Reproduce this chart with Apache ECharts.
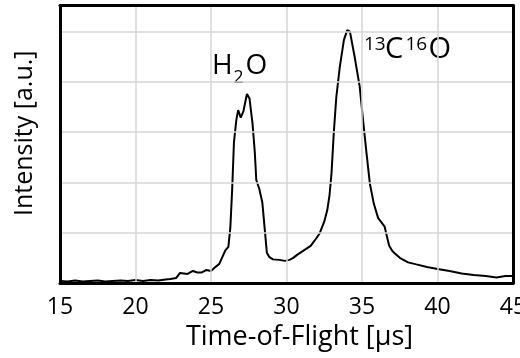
<!DOCTYPE html>
<html>
<head>
<meta charset="utf-8">
<script src="https://cdn.jsdelivr.net/npm/echarts@6/dist/echarts.min.js"></script>
<style>html,body{margin:0;padding:0;background:#fff}#c{width:520px;height:358px}</style>
</head>
<body>
<div id="c"></div>
<script>
const timeUs = [15.0,15.5,16.0,16.5,17.0,17.5,18.0,18.5,19.0,19.5,20.0,20.5,21.0,21.5,22.0,22.3,22.7,22.95,23.2,23.45,23.8,24.1,24.4,24.7,25.0,25.25,25.55,25.8,25.95,26.15,26.28,26.4,26.52,26.68,26.8,26.97,27.15,27.38,27.55,27.75,27.9,28.0,28.2,28.4,28.55,28.7,28.85,29.1,29.5,29.9,30.2,30.45,30.7,30.9,31.3,31.6,32.0,32.2,32.5,32.7,32.85,32.98,33.13,33.3,33.53,33.8,34.02,34.2,34.5,34.85,35.07,35.3,35.52,35.78,36.07,36.3,36.5,36.67,36.8,37.0,37.2,37.5,38.05,38.6,39.3,40.0,40.8,41.6,42.4,43.2,43.9,44.5,45.0];
const intensity = [0.04,0.03,0.05,0.03,0.04,0.05,0.03,0.04,0.05,0.04,0.06,0.04,0.06,0.05,0.07,0.08,0.1,0.2,0.19,0.18,0.24,0.21,0.21,0.26,0.24,0.31,0.38,0.55,0.65,0.72,1.1,1.85,2.8,3.25,3.44,3.29,3.42,3.76,3.67,3.17,2.6,2.05,1.87,1.6,1.1,0.6,0.52,0.47,0.46,0.44,0.46,0.5,0.56,0.6,0.68,0.74,0.9,0.99,1.22,1.45,1.75,2.18,2.98,3.7,4.3,4.83,5.03,5.0,4.52,3.9,3.24,2.58,1.98,1.58,1.29,1.2,1.12,0.9,0.74,0.64,0.58,0.5,0.41,0.37,0.32,0.28,0.24,0.19,0.16,0.14,0.11,0.14,0.14];
const xTicks = [15,20,25,30,35,40,45];
const xTitle = 'Time-of-Flight [µs]';
const yTitle = 'Intensity [a.u.]';

const FONT = 'Open Sans';
const chart = echarts.init(document.getElementById('c'), null, {renderer:'canvas'});
chart.setOption({
  animation:false,
  backgroundColor:'#fff',
  grid:{left:60,right:7,top:5.5,bottom:75,outerBoundsMode:'none',containLabel:false,show:false},
  xAxis:[{
    type:'value',min:xTicks[0],max:xTicks[xTicks.length-1],interval:5,
    name:xTitle,nameLocation:'middle',nameGap:41,
    nameTextStyle:{fontFamily:FONT,fontSize:27,color:'#000',padding:[0,0,0,26]},
    axisLine:{show:true,onZero:false,lineStyle:{color:'#000',width:3}},axisTick:{show:false},
    axisLabel:{fontFamily:FONT,fontSize:23,color:'#000',margin:13},
    splitLine:{show:true,lineStyle:{color:'#d6d6d6',width:1.5}},z:3
  },{
    type:'value',position:'top',min:xTicks[0],max:xTicks[xTicks.length-1],interval:5,
    axisLine:{show:true,onZero:false,lineStyle:{color:'#000',width:3}},axisTick:{show:false},
    axisLabel:{show:false},splitLine:{show:false},z:3
  }],
  yAxis:[{
    type:'value',min:0,max:5.52,interval:1,
    name:yTitle,nameLocation:'middle',nameGap:23,
    nameTextStyle:{fontFamily:FONT,fontSize:25,color:'#000',padding:[0,0,0,22]},
    axisLine:{show:true,onZero:false,lineStyle:{color:'#000',width:3}},axisTick:{show:false},axisLabel:{show:false},
    splitLine:{show:true,lineStyle:{color:'#d6d6d6',width:1.5}},z:3
  },{
    type:'value',position:'right',min:0,max:5.52,interval:1,
    axisLine:{show:true,onZero:false,lineStyle:{color:'#000',width:3}},axisTick:{show:false},axisLabel:{show:false},
    splitLine:{show:false},z:3
  }],
  series:[{
    type:'line',data:timeUs.map((t,i)=>[t,intensity[i]]),
    showSymbol:false,lineStyle:{color:'#000',width:2},z:2
  }],
  graphic:[
    {type:'text',left:212,top:52,style:{text:'H',fontFamily:FONT,fontSize:28,fill:'#000'}},
    {type:'text',left:233.5,top:69,style:{text:'2',fontFamily:FONT,fontSize:17.5,fill:'#000'}},
    {type:'text',left:245.5,top:52,style:{text:'O',fontFamily:FONT,fontSize:28,fill:'#000'}},
    {type:'text',left:364,top:35,style:{text:'13',fontFamily:FONT,fontSize:19,fill:'#000'}},
    {type:'text',left:385,top:35.5,style:{text:'C',fontFamily:FONT,fontSize:29,fill:'#000'}},
    {type:'text',left:405.5,top:35,style:{text:'16',fontFamily:FONT,fontSize:19,fill:'#000'}},
    {type:'text',left:428.5,top:35.5,style:{text:'O',fontFamily:FONT,fontSize:29,fill:'#000'}}
  ]
});
</script>
</body>
</html>
